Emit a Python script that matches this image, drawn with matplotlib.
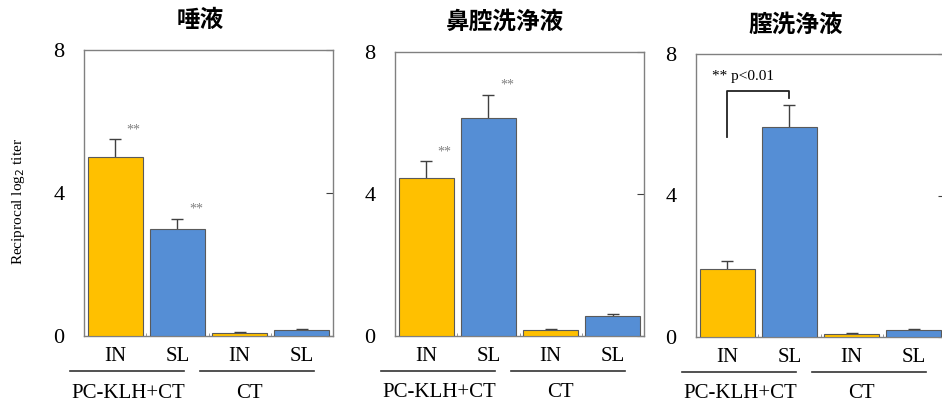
import matplotlib
matplotlib.use('Agg')
import matplotlib.pyplot as plt
import numpy as np

# data
titles = ['唾液', '鼻腔洗浄液', '膣洗浄液']
routes = ['IN', 'SL', 'IN', 'SL']
groups = ['PC-KLH+CT', 'CT']
means = [
    [5.0, 3.0, 0.08, 0.17],
    [4.45, 6.15, 0.17, 0.56],
    [1.93, 5.93, 0.08, 0.2],
]
errs = [
    [0.5, 0.28, 0.02, 0.02],
    [0.47, 0.65, 0.03, 0.06],
    [0.22, 0.62, 0.02, 0.03],
]
stars = [[True, True, False, False],
         [True, True, False, False],
         [False, False, False, False]]
yticks = [0, 4, 8]

bar_colors = ['#FFC000', '#558ED5', '#FFC000', '#558ED5']
serif = ['Liberation Serif', 'DejaVu Serif']
cjk = ['Noto Sans CJK JP', 'DejaVu Sans']

W, H = 942, 409
fig = plt.figure(figsize=(W / 100, H / 100), dpi=100)

# panel frames in pixels: left, right, top, bottom
frames = [(84, 333, 50, 336), (395, 644, 52, 336), (696, 945, 54, 337)]
title_x = [0.466, 0.44, 0.40]

x = np.arange(4)
for i, (l, r, t, b) in enumerate(frames):
    ax = fig.add_axes([l / W, (H - b) / H, (r - l) / W, (b - t) / H])
    ax.bar(x, means[i], width=0.88, color=bar_colors,
           edgecolor='#5a5a5a', linewidth=0.8, zorder=3)
    # full error bars drawn under the bars, so only the upper half shows
    ax.errorbar(x, means[i], yerr=errs[i], fmt='none',
                ecolor='#404040', elinewidth=1, capsize=4, capthick=1, zorder=2)
    for j in range(4):
        if stars[i][j]:
            ax.text(x[j] + 0.3, means[i][j] + errs[i][j] + 0.08, '**',
                    fontsize=10, color='#808080', ha='center', va='bottom',
                    family=serif)

    ax.set_xlim(-0.5, 3.5)
    ax.set_ylim(0, 8)
    ax.set_yticks(yticks)
    ax.set_yticklabels([str(v) for v in yticks], family=serif, fontsize=16)
    ax.tick_params(axis='y', left=False, right=True, direction='in',
                   length=5, pad=14, color='#404040')
    ax.set_xticks(x)
    ax.set_xticklabels(routes, family=serif, fontsize=15)
    ax.tick_params(axis='x', length=0, pad=8)
    ax.set_xticks([0.5, 1.5, 2.5], minor=True)
    ax.tick_params(axis='x', which='minor', direction='in', length=2,
                   color='#888888')
    for s in ax.spines.values():
        s.set_color('#808080')
        s.set_linewidth(1)

    # group underlines and labels
    for x0, x1 in [(-0.055, 0.40), (0.467, 0.925)]:
        ax.plot([x0, x1], [-0.122, -0.122], transform=ax.transAxes,
                color='#333333', lw=1.2, clip_on=False)
    for gx, g in zip([0.177, 0.665], groups):
        ax.text(gx, -0.2, g, transform=ax.transAxes, ha='center',
                va='center', fontsize=15, family=serif)

    ax.text(title_x[i], 1.105, titles[i], transform=ax.transAxes,
            ha='center', va='center', fontsize=17, fontweight='bold',
            family=cjk)

    if i == 0:
        ax.text(-0.265, 0.47, r'Reciprocal log$_2$ titer',
                transform=ax.transAxes, rotation=90, ha='center',
                va='center', fontsize=11, family=serif)
    if i == 2:
        # significance bracket between IN and SL
        ax.plot([0.0, 0.0, 1.0, 1.0], [5.65, 6.95, 6.95, 6.75],
                color='#222222', lw=1.3, zorder=4)
        ax.text(-0.24, 7.35, '** p<0.01', fontsize=11, va='center',
                ha='left', family=serif)

fig.savefig('out.png', dpi=100)
